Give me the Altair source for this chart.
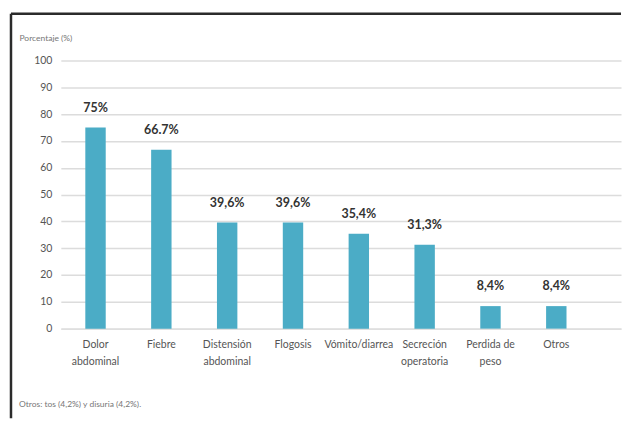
import altair as alt
import pandas as pd

categories = ["Dolor\nabdominal", "Fiebre", "Distensión\nabdominal", "Flogosis",
              "Vómito/diarrea", "Secreción\noperatoria", "Perdida de\npeso", "Otros"]
values = [75, 66.7, 39.6, 39.6, 35.4, 31.3, 8.4, 8.4]
value_labels = ["75%", "66.7%", "39,6%", "39,6%", "35,4%", "31,3%", "8,4%", "8,4%"]
y_ticks = [0, 10, 20, 30, 40, 50, 60, 70, 80, 90, 100]
footnote = "Otros: tos (4,2%) y disuria (4,2%)."

df = pd.DataFrame({"cat": categories, "val": values, "lab": value_labels})
one = pd.DataFrame({"note": [footnote]})

W, H = 562, 269
FONT = "Lato"

x_enc = alt.X("cat:N", sort=categories, title=None,
              scale=alt.Scale(paddingInner=0.69, paddingOuter=0.6, align=0.31),
              axis=alt.Axis(labelExpr="split(datum.label, '\\n')", labelAngle=0,
                            labelFontSize=10.5, labelColor="#555555", labelFont=FONT,
                            labelPadding=11, labelLineHeight=17, ticks=False,
                            domain=True, domainColor="#dcdcdc", domainWidth=1.5,
                            labelLimit=200, labelOverlap=False))
y_enc = alt.Y("val:Q", scale=alt.Scale(domain=[0, 100], nice=False),
              axis=alt.Axis(values=y_ticks, labelOverlap=False,
                            title="Porcentaje (%)", titleAngle=0,
                            titleAlign="left", titleBaseline="bottom",
                            titleX=-42, titleY=-18, titleFontSize=8.5,
                            titleFontWeight="normal", titleColor="#777777",
                            titleFont=FONT,
                            labelFontSize=10.5, labelColor="#555555", labelFont=FONT,
                            labelPadding=9, ticks=False, domain=False,
                            gridColor="#dcdcdc", gridWidth=1.5))

bars = alt.Chart(df).mark_bar(color="#4BACC6").encode(x=x_enc, y=y_enc)

texts = alt.Chart(df).mark_text(fontSize=12.5, fontWeight="bold", color="#333333",
                                 font=FONT, dy=-16, baseline="alphabetic").encode(
    x=x_enc, y=y_enc, text="lab:N")

frame_top = alt.Chart(one).mark_rule(color="#2b2b2b", strokeWidth=2.5).encode(
    x=alt.value(-50), x2=alt.value(W), y=alt.value(-47))
frame_left = alt.Chart(one).mark_rule(color="#2b2b2b", strokeWidth=2.5).encode(
    x=alt.value(-50), y=alt.value(-47), y2=alt.value(H + 90))

note = alt.Chart(one).mark_text(align="left", baseline="alphabetic", fontSize=8.5,
                                fontWeight="normal", color="#777777", font=FONT).encode(
    x=alt.value(-42), y=alt.value(H + 79), text="note:N")

chart = alt.layer(bars, texts, frame_top, frame_left, note).properties(
    width=W, height=H, background="white",
    padding={"left": 1, "top": 3, "right": 0, "bottom": 0}
).configure_view(stroke=None)

chart.save("out.html", embed_options={"renderer": "svg", "actions": False})
